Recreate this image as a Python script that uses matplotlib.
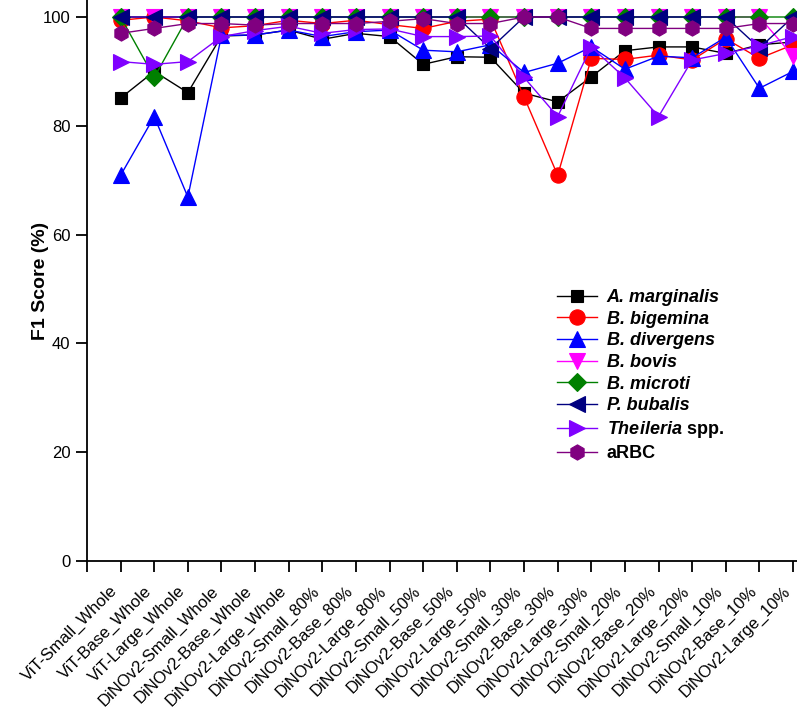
import numpy as np
import matplotlib
matplotlib.use("Agg")
import matplotlib.pyplot as plt

plt.rcParams['font.family'] = ['Liberation Sans', 'DejaVu Sans']
plt.rcParams['mathtext.fontset'] = 'custom'
plt.rcParams['mathtext.it'] = 'Liberation Sans:bold:italic'
plt.rcParams['mathtext.rm'] = 'Liberation Sans:bold'

models = ["ViT-Small_Whole", "ViT-Base_Whole", "ViT-Large_Whole",
          "DiNOv2-Small_Whole", "DiNOv2-Base_Whole", "DiNOv2-Large_Whole",
          "DiNOv2-Small_80%", "DiNOv2-Base_80%", "DiNOv2-Large_80%",
          "DiNOv2-Small_50%", "DiNOv2-Base_50%", "DiNOv2-Large_50%",
          "DiNOv2-Small_30%", "DiNOv2-Base_30%", "DiNOv2-Large_30%",
          "DiNOv2-Small_20%", "DiNOv2-Base_20%", "DiNOv2-Large_20%",
          "DiNOv2-Small_10%", "DiNOv2-Base_10%", "DiNOv2-Large_10%"]

a_marginalis = [85.1, 90.0, 86.1, 96.5, 96.7, 97.6, 95.9, 97.0, 96.4, 91.3, 92.7,
                92.6, 86.0, 84.4, 89.0, 93.8, 94.5, 94.5, 93.3, 94.9, 95.4]
b_bigemina = [99.4, 100.0, 99.3, 98.0, 98.4, 99.4, 98.8, 99.4, 98.6, 97.9, 99.2,
              99.6, 85.3, 70.9, 92.4, 92.2, 93.0, 92.1, 96.0, 92.4, 94.9]
b_divergens = [70.9, 81.7, 66.9, 96.6, 96.7, 97.6, 96.4, 97.3, 97.6, 93.9, 93.6,
               94.9, 89.8, 91.5, 94.5, 90.4, 92.8, 92.5, 96.3, 86.9, 90.0]
b_bovis = [100.0, 100.0, 100.0, 100.0, 100.0, 100.0, 100.0, 100.0, 100.0, 100.0, 100.0,
           100.0, 100.0, 100.0, 100.0, 100.0, 100.0, 100.0, 100.0, 100.0, 92.8]
b_microti = [100.0, 88.9, 100.0, 100.0, 100.0, 100.0, 100.0, 100.0, 100.0, 100.0, 100.0,
             100.0, 100.0, 100.0, 100.0, 100.0, 100.0, 100.0, 100.0, 100.0, 100.0]
p_bubalis = [100.0, 100.0, 100.0, 100.0, 100.0, 100.0, 100.0, 100.0, 100.0, 100.0, 100.0,
             94.2, 100.0, 100.0, 100.0, 100.0, 100.0, 100.0, 100.0, 94.3, 100.0]
theileria = [91.8, 91.3, 91.8, 96.4, 97.5, 98.3, 97.0, 97.7, 97.8, 96.4, 96.4,
             96.5, 88.9, 81.7, 94.5, 88.8, 81.7, 92.1, 93.3, 94.7, 96.4]
arbc = [97.0, 97.9, 98.8, 98.8, 98.5, 98.8, 98.8, 98.8, 99.2, 99.7, 98.8,
        98.8, 100.0, 100.0, 97.9, 97.9, 97.9, 97.9, 97.9, 98.8, 98.8]

series = [
    (a_marginalis, "A. marginalis", "black", "s"),
    (b_bigemina, "B. bigemina", "#FF0000", "o"),
    (b_divergens, "B. divergens", "#0000FF", "^"),
    (b_bovis, "B. bovis", "#FF00FF", "v"),
    (b_microti, "B. microti", "#008000", "D"),
    (p_bubalis, "P. bubalis", "#000080", "<"),
    (theileria, "$\\mathit{Theileria}$ spp.", "#8000FF", ">"),
    (arbc, "aRBC", "#800080", "h"),
]

x = np.arange(1, len(models) + 1)

fig = plt.figure(figsize=(7.97, 7.08), dpi=100)
ax = fig.add_axes([87 / 797, 147 / 708, 710 / 797, 561 / 708])

for i, (vals, name, col, mk) in enumerate(series):
    ms = 9 if mk in ("s", "D") else 11
    ax.plot(x, vals, color=col, lw=1.0, marker=mk, markersize=ms,
            markerfacecolor=col, markeredgecolor=col, markeredgewidth=0.8,
            label=name, zorder=3 + i)

ax.set_xlim(0, 710 / 33.62)
ax.set_ylim(0, 561 / 5.44)
ax.set_xticks(np.arange(0, len(models) + 1))
ax.set_yticks([0, 20, 40, 60, 80, 100])
ax.tick_params(direction="out", length=8, width=1.3)
ax.tick_params(axis="y", labelsize=12, pad=4)
ax.set_xticklabels([""] + models, rotation=45, ha="right", va="top",
                   fontsize=12)
ax.tick_params(axis="x", pad=8)
for s in ("top", "right"):
    ax.spines[s].set_visible(False)
for s in ("left", "bottom"):
    ax.spines[s].set_linewidth(1.3)
ax.set_ylabel("F1 Score (%)", fontsize=14, fontweight="bold")
ax.yaxis.set_label_coords(-0.054, 0.5)

leg = ax.legend(loc="upper left", bbox_to_anchor=(557 / 797, 1 - 289 / 708),
                bbox_transform=fig.transFigure, frameon=False, borderpad=0,
                borderaxespad=0, labelspacing=0.26, handlelength=2.2,
                handletextpad=0.55, prop={"size": 13, "weight": "bold"})
for t in leg.get_texts()[:6]:
    t.set_fontstyle("italic")

fig.savefig("out.png", dpi=100)
